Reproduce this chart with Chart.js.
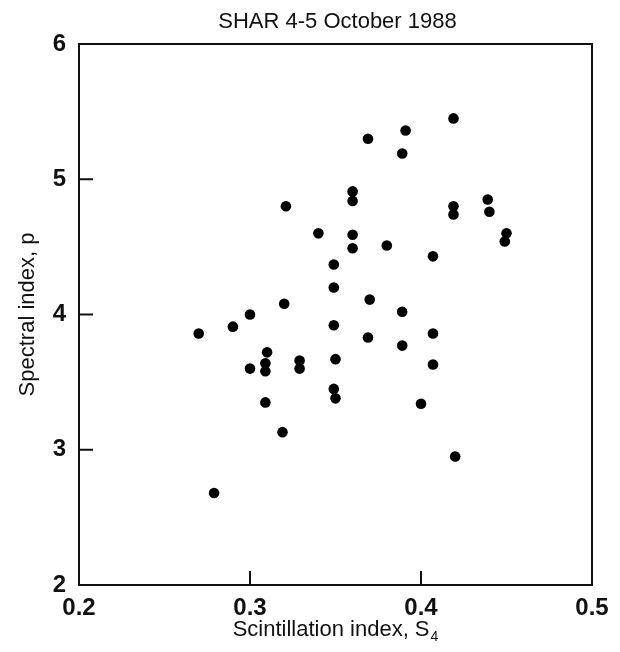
<!DOCTYPE html>
<html>
<head>
<meta charset="utf-8">
<title>SHAR 4-5 October 1988</title>
<script src="https://cdn.jsdelivr.net/npm/chart.js@4.4.1/dist/chart.umd.min.js"></script>
<style>
    html, body { margin: 0; padding: 0; background: #fff; }
    canvas { display: block; }
</style>
</head>
<body>
<canvas id="scatterChart" width="620" height="652"></canvas>
<script>
// valores (S4, p)
const s4Values = [
    0.270, 0.279, 0.290, 0.300, 0.300, 0.310, 0.309, 0.309, 0.309, 0.319,
    0.320, 0.321, 0.329, 0.329, 0.340, 0.349, 0.349, 0.349, 0.350, 0.349,
    0.350, 0.360, 0.360, 0.360, 0.360, 0.369, 0.370, 0.369, 0.380, 0.389,
    0.391, 0.389, 0.389, 0.400, 0.407, 0.407, 0.407, 0.419, 0.419, 0.419,
    0.420, 0.439, 0.440, 0.450, 0.449
];
const pValues = [
    3.86, 2.68, 3.91, 4.00, 3.60, 3.72, 3.64, 3.58, 3.35, 3.13,
    4.08, 4.80, 3.66, 3.60, 4.60, 4.37, 4.20, 3.92, 3.67, 3.45,
    3.38, 4.91, 4.84, 4.59, 4.49, 5.30, 4.11, 3.83, 4.51, 5.19,
    5.36, 4.02, 3.77, 3.34, 4.43, 3.86, 3.63, 5.45, 4.80, 4.74,
    2.95, 4.85, 4.76, 4.60, 4.54
];
const xTickValues = [0.2, 0.3, 0.4, 0.5];
const yTickValues = [2, 3, 4, 5, 6];

const chartTitle = 'SHAR 4-5 October 1988';
const xTitle = 'Scintillation index, S';
const xTitleSub = '4';
const yTitle = 'Spectral index, p';

const textFont = '"Liberation Sans", Arial, sans-serif';

document.addEventListener('DOMContentLoaded', () => {
    const ctx = document.getElementById('scatterChart');
    const points = s4Values.map((x, i) => ({ x: x, y: pValues[i] }));

    // moldura, ticks internos e títulos
    const framePlugin = {
        id: 'frame',
        afterDraw(chart) {
            const c = chart.ctx;
            const a = chart.chartArea;
            const xs = chart.scales.x;
            const ys = chart.scales.y;
            c.save();
            c.strokeStyle = '#111';
            c.lineWidth = 2;
            c.strokeRect(a.left, a.top, a.right - a.left, a.bottom - a.top);

            c.beginPath();
            xTickValues.slice(1, -1).forEach(v => {
                const px = xs.getPixelForValue(v);
                c.moveTo(px, a.bottom);
                c.lineTo(px, a.bottom - 14);
            });
            yTickValues.slice(1, -1).forEach(v => {
                const py = ys.getPixelForValue(v);
                c.moveTo(a.left, py);
                c.lineTo(a.left + 14, py);
            });
            c.stroke();

            const midX = (a.left + a.right) / 2;
            const midY = (a.top + a.bottom) / 2;
            c.fillStyle = '#111';
            c.textBaseline = 'middle';

            c.font = '22px ' + textFont;
            c.textAlign = 'center';
            c.fillText(chartTitle, midX + 2, 22);

            // título do eixo x com subscrito
            c.font = '22px ' + textFont;
            const wMain = c.measureText(xTitle).width;
            c.font = '14px ' + textFont;
            const wSub = c.measureText(xTitleSub).width;
            const startX = midX - (wMain + wSub + 1) / 2;
            c.textAlign = 'left';
            c.font = '22px ' + textFont;
            c.fillText(xTitle, startX, 630);
            c.font = '14px ' + textFont;
            c.fillText(xTitleSub, startX + wMain + 1, 637);

            // título do eixo y
            c.translate(28, midY);
            c.rotate(-Math.PI / 2);
            c.font = '22px ' + textFont;
            c.textAlign = 'center';
            c.fillText(yTitle, 0, 0);
            c.restore();
        }
    };

    new Chart(ctx, {
        type: 'scatter',
        data: {
            datasets: [{
                data: points,
                backgroundColor: '#000',
                borderColor: '#000',
                pointRadius: 5.3,
                pointHoverRadius: 5.3,
                borderWidth: 0
            }]
        },
        options: {
            responsive: false,
            animation: false,
            layout: {
                padding: { top: 44, right: 28, left: 0, bottom: 0 }
            },
            plugins: {
                legend: { display: false },
                tooltip: { enabled: false },
                title: { display: false }
            },
            scales: {
                x: {
                    type: 'linear',
                    min: 0.2,
                    max: 0.5,
                    afterFit: (scale) => { scale.height = 67; },
                    afterBuildTicks: (scale) => {
                        scale.ticks = xTickValues.map(v => ({ value: v }));
                    },
                    grid: { display: false, drawTicks: false },
                    border: { display: false },
                    ticks: {
                        padding: 9,
                        color: '#111',
                        font: { family: textFont, size: 24, weight: 'bold' },
                        callback: (v) => Number(v).toFixed(1)
                    }
                },
                y: {
                    type: 'linear',
                    min: 2,
                    max: 6,
                    afterFit: (scale) => { scale.width = 79; },
                    afterBuildTicks: (scale) => {
                        scale.ticks = yTickValues.map(v => ({ value: v }));
                    },
                    grid: { display: false, drawTicks: false },
                    border: { display: false },
                    ticks: {
                        padding: 13,
                        color: '#111',
                        font: { family: textFont, size: 24, weight: 'bold' },
                        callback: (v) => String(v)
                    }
                }
            }
        },
        plugins: [framePlugin]
    });
});
</script>
</body>
</html>
